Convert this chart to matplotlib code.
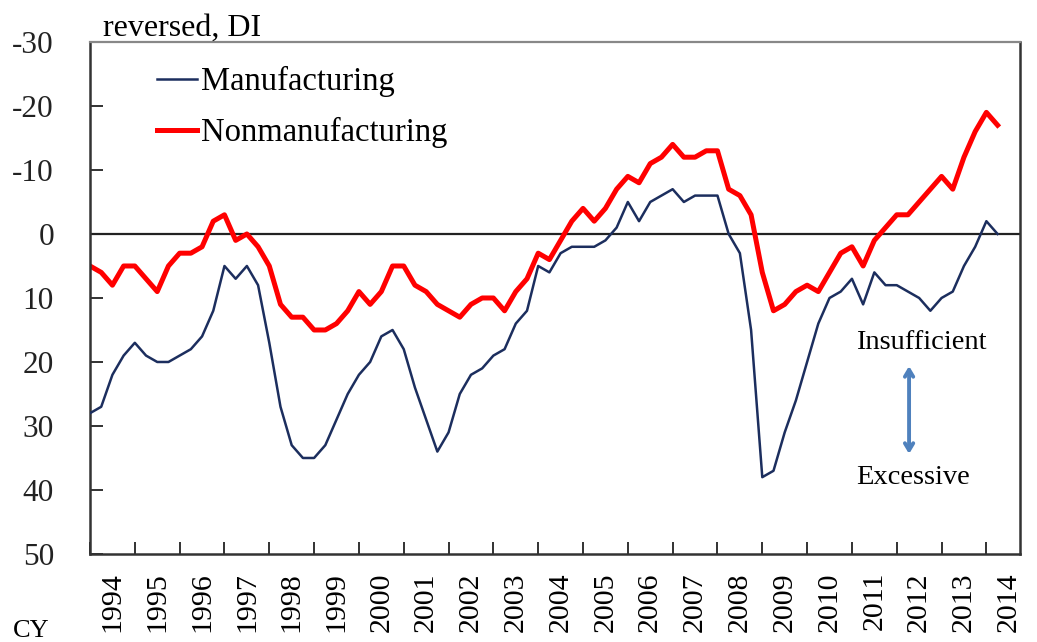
import numpy as np
import matplotlib
matplotlib.use("Agg")
from matplotlib import pyplot as plt

plt.rcParams['font.family'] = ['Liberation Serif', 'DejaVu Serif']
plt.rcParams['axes.unicode_minus'] = False

# quarterly, 1994Q1 .. 2014Q2 (employment conditions DI, reversed axis)
manufacturing = [28, 27, 22, 19, 17, 19, 20, 20, 19, 18, 16, 12,
                 5, 7, 5, 8, 17, 27, 33, 35, 35, 33, 29, 25,
                 22, 20, 16, 15, 18, 24, 29, 34, 31, 25, 22, 21,
                 19, 18, 14, 12, 5, 6, 3, 2, 2, 2, 1, -1,
                 -5, -2, -5, -6, -7, -5, -6, -6, -6, 0, 3, 15,
                 38, 37, 31, 26, 20, 14, 10, 9, 7, 11, 6, 8,
                 8, 9, 10, 12, 10, 9, 5, 2, -2, 0]
nonmanufacturing = [5, 6, 8, 5, 5, 7, 9, 5, 3, 3, 2, -2,
                    -3, 1, 0, 2, 5, 11, 13, 13, 15, 15, 14, 12,
                    9, 11, 9, 5, 5, 8, 9, 11, 12, 13, 11, 10,
                    10, 12, 9, 7, 3, 4, 1, -2, -4, -2, -4, -7,
                    -9, -8, -11, -12, -14, -12, -12, -13, -13, -7, -6, -3,
                    6, 12, 11, 9, 8, 9, 6, 3, 2, 5, 1, -1,
                    -3, -3, -5, -7, -9, -7, -12, -16, -19, -17]
years = list(range(1994, 2015))
yticks = [-30, -20, -10, 0, 10, 20, 30, 40, 50]

x = np.arange(len(manufacturing))

fig = plt.figure(figsize=(10.37, 6.42), dpi=100)
ax = fig.add_axes([0.0868, 0.1371, 0.8968, 0.7975])

ax.axhline(0, color='#222222', lw=1.6, zorder=1)
ax.plot(x, manufacturing, color='#1c2e5e', lw=1.8, label='Manufacturing', zorder=3)
ax.plot(x, nonmanufacturing, color='#ff0000', lw=3.6, label='Nonmanufacturing', zorder=2)

ax.set_xlim(0, 83)
ax.set_ylim(50, -30)
ax.set_yticks(yticks)
ax.set_yticklabels([str(v) for v in yticks])

ax.set_xticks(np.arange(0, 81, 4))
ax.set_xticklabels([])
ax.set_xticks(np.arange(2, 83, 4), minor=True)
ax.set_xticklabels([str(y) for y in years], minor=True, rotation=90)

ax.tick_params(axis='y', direction='in', length=9, width=1.3, labelsize=22.5, pad=26, colors='#222222')
ax.tick_params(axis='x', which='major', direction='in', length=9, width=1.3, colors='#222222')
ax.tick_params(axis='x', which='minor', length=0, labelsize=21.5, pad=13)

for side in ['left', 'bottom', 'right']:
    ax.spines[side].set_linewidth(1.8)
    ax.spines[side].set_color('#333333')
ax.spines['top'].set_linewidth(1.6)
ax.spines['top'].set_color('#888888')

ax.legend(loc='upper left', bbox_to_anchor=(0.054, 0.985), frameon=False, fontsize=23.5,
          handlelength=1.25, handletextpad=0.1, labelspacing=0.62, borderpad=0)

fig.text(103 / 1037, 1 - 36 / 642, 'reversed, DI', fontsize=23, ha='left', va='baseline')
fig.text(13 / 1037, 1 - 637 / 642, 'CY', fontsize=19, ha='left', va='baseline')

ax.text(68.4, 17.0, 'Insufficient', fontsize=20.5, ha='left', va='center')
ax.text(68.4, 38.0, 'Excessive', fontsize=20.5, ha='left', va='center')
ax.annotate('', xy=(73.1, 20.2), xytext=(73.1, 34.8),
            arrowprops=dict(arrowstyle='<->,head_length=0.5,head_width=0.3',
                            color='#4f81bd', lw=2.8))

fig.savefig('out.png', dpi=100)
